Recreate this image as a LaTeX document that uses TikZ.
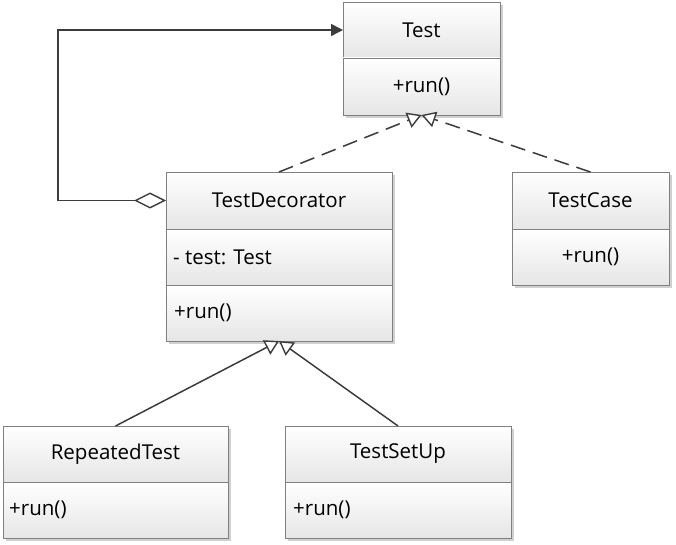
\documentclass[tikz,border=0pt]{standalone}
\usepackage{fontspec}
\setmainfont{Open Sans}
\usetikzlibrary{arrows.meta,shadows}
\definecolor{boxline}{HTML}{808080}
\definecolor{connc}{HTML}{3C3C3C}
\definecolor{shadec}{HTML}{E6E6E6}
\definecolor{shadowc}{HTML}{D0D0D0}
\definecolor{txt}{HTML}{000000}
\tikzset{
  classbox/.style={anchor=north west, inner sep=0pt, outer sep=0pt, fill=white,
    drop shadow={shadow xshift=3pt, shadow yshift=-3pt, fill=shadowc, opacity=1}},
  compart/.style={anchor=north west, draw=boxline, line width=0.9pt, inner sep=0pt, outer sep=0pt,
    top color=white, bottom color=shadec, text=txt, font=\fontsize{20.5}{24}\selectfont},
  lbl/.style={anchor=west, inner sep=0pt, text=txt, font=\fontsize{20.5}{24}\selectfont},
  connline/.style={draw=connc, line width=1.5pt},
  realize/.style={connline, dash pattern=on 15pt off 8pt,
    -{Triangle[open, length=14pt, width=16pt, fill=white, line width=1.4pt]}},
  inherit/.style={connline, -{Triangle[open, length=14pt, width=16pt, fill=white, line width=1.4pt]}},
  aggr/.style={connline, {Diamond[open, length=32pt, width=16pt, fill=white, line width=1.4pt]}-{Triangle[length=12pt, width=12pt, fill=connc]}}
}
\begin{document}
\begin{tikzpicture}[x=1pt,y=-1pt]
\useasboundingbox (0,0) rectangle (676,545);
% Test
\node[classbox, minimum width=157pt, minimum height=113pt] (test) at (343,2) {};
\node[compart, minimum width=157pt, minimum height=56pt] (testh) at (343,2) {Test};
\node[compart, minimum width=157pt, minimum height=57pt] (testb) at (testh.south west) {+run()};
% TestCase
\node[classbox, minimum width=157pt, minimum height=113pt] (tc) at (512,172) {};
\node[compart, minimum width=157pt, minimum height=57pt] (tch) at (512,172) {TestCase};
\node[compart, minimum width=157pt, minimum height=56pt] (tcb) at (tch.south west) {+run()};
% TestDecorator
\node[classbox, minimum width=226pt, minimum height=169pt] (dec) at (166,172) {};
\node[compart, minimum width=226pt, minimum height=57pt] (dech) at (166,172) {TestDecorator};
\node[compart, minimum width=226pt, minimum height=56pt] (deca) at (dech.south west) {};
\node[compart, minimum width=226pt, minimum height=56pt] (deco) at (deca.south west) {};
\node[lbl] (decat) at ([xshift=7pt]deca.west) {- test: Test};
\node[lbl] (decot) at ([xshift=8pt]deco.west) {+run()};
% RepeatedTest
\node[classbox, minimum width=225pt, minimum height=112pt] (rt) at (3,426) {};
\node[compart, minimum width=225pt, minimum height=56pt] (rth) at (3,426) {RepeatedTest};
\node[compart, minimum width=225pt, minimum height=56pt] (rtb) at (rth.south west) {};
\node[lbl] (rtbt) at ([xshift=6pt]rtb.west) {+run()};
% TestSetUp
\node[classbox, minimum width=226pt, minimum height=112pt] (tsu) at (285,426) {};
\node[compart, minimum width=226pt, minimum height=56pt] (tsuh) at (285,426) {TestSetUp};
\node[compart, minimum width=226pt, minimum height=56pt] (tsub) at (tsuh.south west) {};
\node[lbl] (tsubt) at ([xshift=8pt]tsub.west) {+run()};
% connectors
\coordinate (loop) at (58,0);
\draw[aggr] (dech.west) -- (dech.west -| loop) |- (testh.west);
\draw[realize] (dec.north) -- (test.south);
\draw[realize] (tc.north) -- (test.south);
\draw[inherit] (rt.north) -- (dec.south);
\draw[inherit] (tsu.north) -- (dec.south);
\end{tikzpicture}
\end{document}
